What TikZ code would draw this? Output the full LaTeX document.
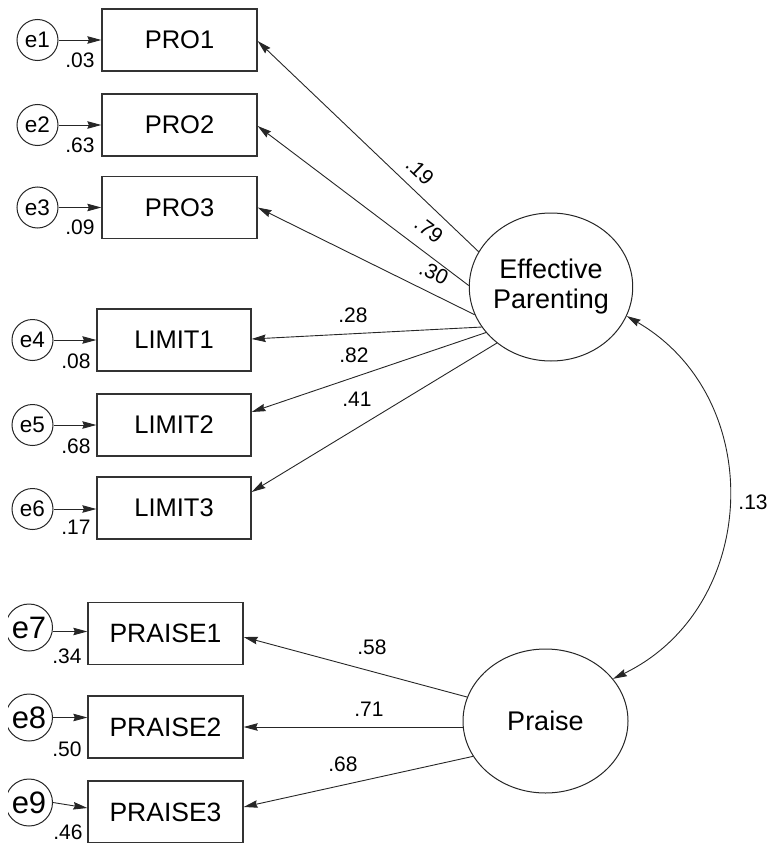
\documentclass[tikz,border=0pt]{standalone}
\usepackage{fontspec}
\setmainfont{Liberation Sans}
\usetikzlibrary{arrows.meta,shapes.geometric}

\begin{document}
\begin{tikzpicture}[x=1pt,y=1pt,
  obs/.style={draw=black!80, line width=1.3pt, rectangle, minimum width=155pt,
    minimum height=62pt, inner sep=0pt, font=\fontsize{25.5}{28}\selectfont},
  lat/.style={draw=black!85, line width=1pt, ellipse, inner sep=0pt,
    align=center, font=\fontsize{27}{30}\selectfont},
  err/.style={draw=black!85, line width=1pt, circle, inner sep=0pt,
    minimum size=41pt, font=\fontsize{22.5}{24}\selectfont},
  bigerr/.style={err, minimum size=47pt, font=\fontsize{31}{32}\selectfont},
  load/.style={draw=black!85, line width=0.9pt,
    -{Stealth[length=14pt,width=7.5pt,inset=1.5pt]}},
  covar/.style={draw=black!85, line width=0.9pt,
    {Stealth[length=14pt,width=7.5pt,inset=1.5pt]}-{Stealth[length=14pt,width=7.5pt,inset=1.5pt]}},
  coef/.style={font=\fontsize{21}{22}\selectfont, inner sep=0pt},
]
\useasboundingbox (0,0) rectangle (774,-843);

% latent factors
\node[lat, minimum width=162pt, minimum height=148pt] (EP) at (551,-287) {Effective\\Parenting};
\node[lat, minimum width=165pt, minimum height=144pt] (PR) at (545.5,-721) {Praise};

% observed indicators
\node[obs] (PRO1) at (179.5,-40) {PRO1};
\node[obs] (PRO2) at (179.5,-125) {PRO2};
\node[obs] (PRO3) at (179.5,-207.5) {PRO3};
\node[obs, minimum width=154pt] (LIM1) at (174,-340) {LIMIT1};
\node[obs, minimum width=154pt] (LIM2) at (174,-425) {LIMIT2};
\node[obs, minimum width=154pt] (LIM3) at (174,-508) {LIMIT3};
\node[obs, font=\fontsize{26.5}{28}\selectfont] (PRA1) at (165.5,-633.5) {PRAISE1};
\node[obs, font=\fontsize{26.5}{28}\selectfont] (PRA2) at (165.5,-727) {PRAISE2};
\node[obs, font=\fontsize{26.5}{28}\selectfont] (PRA3) at (165.5,-812) {PRAISE3};

% error terms
\node[err] (e1) at (37.5,-40) {e1};
\node[err] (e2) at (37.5,-125) {e2};
\node[err] (e3) at (37.5,-207.5) {e3};
\node[err] (e4) at (32.5,-340) {e4};
\node[err] (e5) at (32.5,-425) {e5};
\node[err] (e6) at (32.5,-509) {e6};
\begin{scope}
  \clip (8,-590) rectangle (100,-843);
  \node[bigerr] (e7) at (29,-627.5) {e7};
  \node[bigerr] (e8) at (29,-717.5) {e8};
  \node[bigerr] (e9) at (29,-802.5) {e9};
\end{scope}

% error arrows
\draw[load] (e1) -- (PRO1);
\draw[load] (e2) -- (PRO2);
\draw[load] (e3.east) -- (e3.east -| PRO3.west);
\draw[load] (e4) -- (LIM1);
\draw[load] (e5) -- (LIM2);
\draw[load] (e6.east) -- (e6.east -| LIM3.west);
\draw[load] ([yshift=-4pt]e7.east) -- ([yshift=-4pt]e7.east -| PRA1.west);
\draw[load] (e8.east) -- (e8.east -| PRA2.west);
\draw[load] (e9.east) -- ([yshift=4pt]PRA3.west);

% error variances
\node[coef] (v1) at (80,-60) {.03};
\node[coef] (v2) at (80,-145) {.63};
\node[coef] (v3) at (80,-227) {.09};
\node[coef] (v4) at (76,-361) {.08};
\node[coef] (v5) at (76,-446) {.68};
\node[coef] (v6) at (76,-527) {.17};
\node[coef] (v7) at (67,-656) {.34};
\node[coef] (v8) at (67,-749) {.50};
\node[coef] (v9) at (68,-832) {.46};

% factor loadings
\draw[load] (EP.154.7) -- ([yshift=-1pt]PRO1.east);
\draw[load] (EP.179.3) -- ([yshift=-1pt]PRO2.east);
\draw[load] (EP.200.9) -- (PRO3.east);
\draw[load] (EP.210.1) -- ([yshift=1pt]LIM1.east);
\draw[load] (EP.215.7) -- ([yshift=13pt]LIM2.east);
\draw[load] (EP.226) -- ([yshift=16pt]LIM3.east);
\draw[load] (PR.163) -- ([yshift=-3.5pt]PRA1.east);
\draw[load] (PRA2.east -| PR.west) -- (PRA2.east);
\draw[load] (PR.206.4) -- ([yshift=5pt]PRA3.east);

\node[coef, rotate=-44] (c1) at (420,-171) {.19};
\node[coef, rotate=-37] (c2) at (429,-230) {.79};
\node[coef, rotate=-26] (c3) at (434,-273) {.30};
\node[coef] (c4) at (353,-315) {.28};
\node[coef] (c5) at (354,-355) {.82};
\node[coef] (c6) at (357,-399) {.41};
\node[coef] (c7) at (372,-647) {.58};
\node[coef] (c8) at (369,-709) {.71};
\node[coef] (c9) at (343,-764) {.68};

% factor covariance
\draw[covar] (EP.-21) to[bend left=62, looseness=1.15] (PR.32.5);
\node[coef] (c10) at (753,-502) {.13};
\end{tikzpicture}
\end{document}
